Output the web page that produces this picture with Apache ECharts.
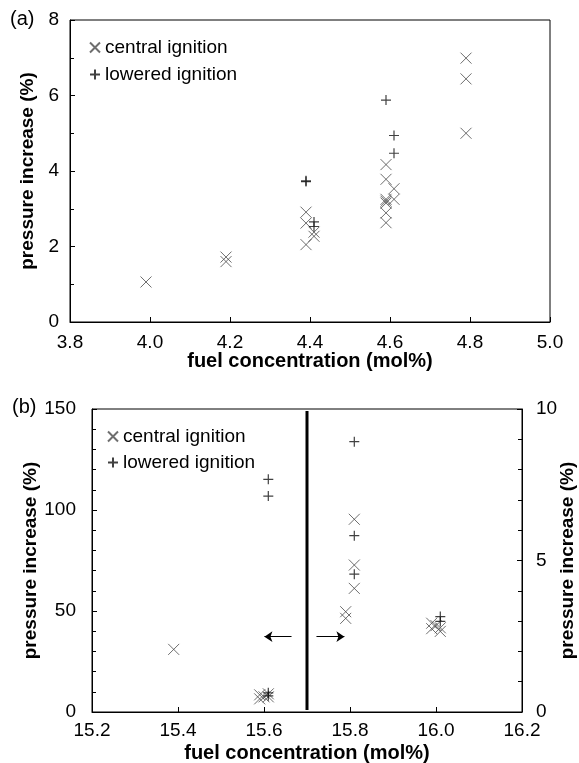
<!DOCTYPE html>
<html>
<head>
<meta charset="utf-8">
<script src="https://cdn.jsdelivr.net/npm/echarts@6/dist/echarts.min.js"></script>
<style>
html,body{margin:0;padding:0;background:#fff;}
#c{width:579px;height:763px;}
</style>
</head>
<body>
<div id="c"></div>
<script>
// ---------- data: panel (a) ----------
const aCentralX = [3.99, 4.19, 4.19, 4.39, 4.39, 4.39, 4.41, 4.41, 4.59, 4.59, 4.59, 4.59, 4.59, 4.59, 4.59, 4.61, 4.61, 4.79, 4.79, 4.79];
const aCentralY = [1.06, 1.72, 1.60, 2.91, 2.62, 2.05, 2.38, 2.27, 4.17, 3.78, 3.25, 3.20, 3.15, 2.89, 2.63, 3.53, 3.25, 6.99, 6.44, 5.00];
const aLoweredX = [4.39, 4.39, 4.41, 4.41, 4.59, 4.61, 4.61];
const aLoweredY = [3.74, 3.72, 2.65, 2.53, 5.88, 4.94, 4.47];

// ---------- data: panel (b), left axis (0-150) ----------
const bLeftCentralX = [15.39, 15.59, 15.59, 15.60, 15.61, 15.61];
const bLeftCentralY = [31, 8.5, 6.5, 7.5, 9.0, 7.5];
const bLeftLoweredX = [15.61, 15.61, 15.61, 15.61];
const bLeftLoweredY = [115.2, 106.9, 9.5, 8.0];

// ---------- data: panel (b), right axis (0-10) ----------
const bRightCentralX = [15.79, 15.79, 15.81, 15.81, 15.81, 15.99, 15.99, 16.00, 16.01, 16.01];
const bRightCentralY = [3.31, 3.09, 6.36, 4.85, 4.08, 2.93, 2.75, 2.85, 2.66, 2.78];
const bRightLoweredX = [15.81, 15.81, 15.81, 16.01, 16.01];
const bRightLoweredY = [8.92, 5.82, 4.55, 3.15, 2.99];

// divider and arrows (panel b, left-axis units)
const dividerX = 15.70;
const dividerY = [1, 149];
const arrowY = 37.3;
const leftArrowX = [15.664, 15.601];   // tail -> tip
const rightArrowX = [15.722, 15.787];  // tail -> tip

// axis ranges / tick labels
const aXRange = [3.8, 5.0], aXStep = 0.2;
const aYRange = [0, 8], aYStep = 2;
const bXRange = [15.2, 16.2], bXStep = 0.2;
const bYLeftRange = [0, 150], bYLeftStep = 50;
const bYRightRange = [0, 10], bYRightStep = 5;

const seriesNames = ['central ignition', 'lowered ignition'];
const axisTitles = { x: 'fuel concentration (mol%)', y: 'pressure increase (%)' };
const panelLabels = ['(a)', '(b)'];

// ---------- styling ----------
const FONT = 'Liberation Sans, Arial, Helvetica, sans-serif';
const CROSS = 'path://M0,0L10,10M0,10L10,0';
const PLUS = 'path://M5,0L5,10M0,5L10,5';
const zip = (xs, ys) => xs.map((x, i) => [x, ys[i]]);

const crossStyle = { color: 'rgba(0,0,0,0)', borderColor: '#4a4a4a', borderWidth: 1 };
const plusStyle = { color: 'rgba(0,0,0,0)', borderColor: '#111', borderWidth: 1.2 };

function xAx(grid, range, step, gap, margin) {
  return {
    type: 'value', gridIndex: grid, min: range[0], max: range[1], interval: step,
    name: axisTitles.x, nameLocation: 'middle', nameGap: gap, nameMoveOverlap: false,
    nameTextStyle: { fontFamily: FONT, fontSize: 20, fontWeight: 'bold', color: '#000' },
    axisLine: { show: true, onZero: false, lineStyle: { color: '#000', width: 1 } },
    axisTick: { show: true, inside: true, length: 5, lineStyle: { color: '#000' } },
    axisLabel: { fontFamily: FONT, fontSize: 19, color: '#000', margin: margin,
                 formatter: v => v.toFixed(1) },
    splitLine: { show: false }
  };
}
function yAx(grid, range, step, pos, minorSplit, gap, margin) {
  return {
    type: 'value', gridIndex: grid, min: range[0], max: range[1], interval: step, position: pos,
    name: axisTitles.y, nameLocation: 'middle', nameGap: gap, nameRotate: 90, nameMoveOverlap: false,
    nameTextStyle: { fontFamily: FONT, fontSize: 19, fontWeight: 'bold', color: '#000' },
    axisLine: { show: true, onZero: false, lineStyle: { color: '#000', width: 1 } },
    axisTick: { show: true, inside: true, length: 5, lineStyle: { color: '#000' } },
    minorTick: { show: true, splitNumber: minorSplit, length: 4, lineStyle: { color: '#000' } },
    axisLabel: { fontFamily: FONT, fontSize: 19, color: '#000', margin: margin },
    splitLine: { show: false }
  };
}

const chart = echarts.init(document.getElementById('c'), null, { renderer: 'canvas' });
chart.setOption({
  animation: false,
  backgroundColor: '#fff',
  textStyle: { fontFamily: FONT },
  graphic: [
    { type: 'text', left: 10, top: 9, style: { text: panelLabels[0], font: '20px ' + FONT, fill: '#000' } },
    { type: 'text', left: 12, top: 397, style: { text: panelLabels[1], font: '20px ' + FONT, fill: '#000' } }
  ],
  grid: [
    { left: 70, top: 20, width: 480, height: 302, show: true, borderColor: '#000', borderWidth: 1, backgroundColor: 'rgba(0,0,0,0)', containLabel: false, outerBoundsMode: 'none' },
    { left: 92, top: 409, width: 430, height: 303, show: true, borderColor: '#000', borderWidth: 1, backgroundColor: 'rgba(0,0,0,0)', containLabel: false, outerBoundsMode: 'none' }
  ],
  legend: [
    { data: [{ name: seriesNames[0], icon: CROSS }, { name: seriesNames[1], icon: PLUS }],
      orient: 'vertical', left: 84, top: 33, itemWidth: 10, itemHeight: 10, itemGap: 8,
      selectedMode: false, textStyle: { fontFamily: FONT, fontSize: 19, color: '#000', lineHeight: 19 } },
    { data: [{ name: seriesNames[0], icon: CROSS }, { name: seriesNames[1], icon: PLUS }],
      orient: 'vertical', left: 102, top: 422, itemWidth: 10, itemHeight: 10, itemGap: 7,
      selectedMode: false, textStyle: { fontFamily: FONT, fontSize: 19, color: '#000', lineHeight: 19 } }
  ],
  xAxis: [ xAx(0, aXRange, aXStep, 29, 11), xAx(1, bXRange, bXStep, 31, 9) ],
  yAxis: [
    yAx(0, aYRange, aYStep, 'left', 2, 33, 11),
    yAx(1, bYLeftRange, bYLeftStep, 'left', 5, 52, 16),
    yAx(1, bYRightRange, bYRightStep, 'right', 5, 36, 14)
  ],
  series: [
    { type: 'scatter', name: seriesNames[0], xAxisIndex: 0, yAxisIndex: 0, symbol: CROSS, symbolSize: 11,
      itemStyle: crossStyle, data: zip(aCentralX, aCentralY) },
    { type: 'scatter', name: seriesNames[1], xAxisIndex: 0, yAxisIndex: 0, symbol: PLUS, symbolSize: 10,
      itemStyle: plusStyle, data: zip(aLoweredX, aLoweredY) },
    { type: 'scatter', name: seriesNames[0], xAxisIndex: 1, yAxisIndex: 1, symbol: CROSS, symbolSize: 11,
      itemStyle: crossStyle, data: zip(bLeftCentralX, bLeftCentralY) },
    { type: 'scatter', name: seriesNames[1], xAxisIndex: 1, yAxisIndex: 1, symbol: PLUS, symbolSize: 10,
      itemStyle: plusStyle, data: zip(bLeftLoweredX, bLeftLoweredY) },
    { type: 'scatter', name: seriesNames[0], xAxisIndex: 1, yAxisIndex: 2, symbol: CROSS, symbolSize: 11,
      itemStyle: crossStyle, data: zip(bRightCentralX, bRightCentralY) },
    { type: 'scatter', name: seriesNames[1], xAxisIndex: 1, yAxisIndex: 2, symbol: PLUS, symbolSize: 10,
      itemStyle: plusStyle, data: zip(bRightLoweredX, bRightLoweredY) },
    { type: 'line', xAxisIndex: 1, yAxisIndex: 1, symbol: 'none', silent: true,
      lineStyle: { color: '#000', width: 3 },
      data: [[dividerX, dividerY[0]], [dividerX, dividerY[1]]] },
    { type: 'lines', coordinateSystem: 'cartesian2d', xAxisIndex: 1, yAxisIndex: 1, silent: true,
      symbol: ['none', 'arrow'], symbolSize: [0, 8],
      lineStyle: { color: '#000', width: 1, opacity: 1, curveness: 0 },
      data: [
        { coords: [[leftArrowX[0], arrowY], [leftArrowX[1], arrowY]] },
        { coords: [[rightArrowX[0], arrowY], [rightArrowX[1], arrowY]] }
      ] }
  ]
});
</script>
</body>
</html>
